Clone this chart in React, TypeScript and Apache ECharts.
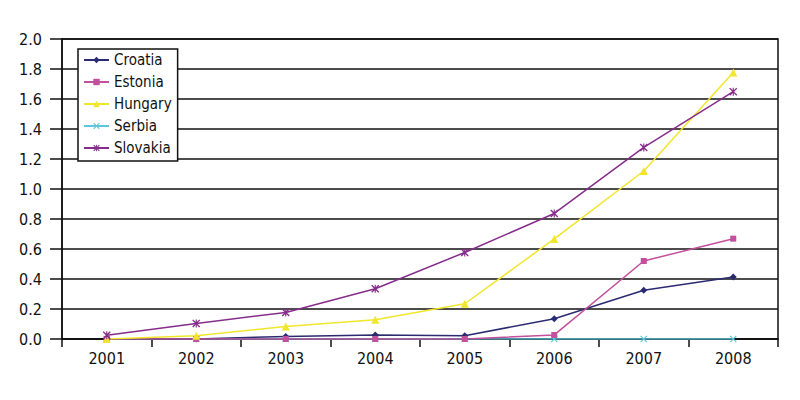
import React, { useEffect, useRef } from "react";
import * as echarts from "echarts";

const years = ["2001", "2002", "2003", "2004", "2005", "2006", "2007", "2008"];
const croatia = [0, 0, 0.017, 0.027, 0.022, 0.135, 0.325, 0.413];
const estonia = [0, 0, 0, 0, 0, 0.027, 0.52, 0.669];
const hungary = [0, 0.022, 0.084, 0.129, 0.235, 0.667, 1.12, 1.777];
const serbia = [0, 0, 0, 0, 0, 0, 0, 0];
const slovakia = [0.025, 0.104, 0.177, 0.335, 0.577, 0.837, 1.277, 1.649];

const seriesNames = ["Croatia", "Estonia", "Hungary", "Serbia", "Slovakia"];
const seriesData = [croatia, estonia, hungary, serbia, slovakia];
const seriesColors = ["#2b2b72", "#c2509c", "#f2e62a", "#5cc6dc", "#862d8c"];

const X_PATH =
  "path://M0,1.2L1.2,0L5,3.8L8.8,0L10,1.2L6.2,5L10,8.8L8.8,10L5,6.2L1.2,10L0,8.8L3.8,5Z";
const STAR_PATH =
  "path://M0,1.2L1.2,0L5,3.8L8.8,0L10,1.2L6.2,5L10,8.8L8.8,10L5,6.2L1.2,10L0,8.8L3.8,5Z M4.3,0L5.7,0L5.7,10L4.3,10Z";
const seriesSymbols = ["diamond", "rect", "triangle", X_PATH, STAR_PATH];
const seriesSymbolSizes = [7, 6, 8, 7, 8];

const FONT = "'Liberation Sans Narrow', 'DejaVu Sans Condensed', sans-serif";

export default function App() {
  const ref = useRef<HTMLDivElement>(null);
  useEffect(() => {
    if (!ref.current) return;
    const chart = echarts.init(ref.current, null, { renderer: "svg" });
    chart.setOption({
      animation: false,
      backgroundColor: "#ffffff",
      textStyle: { fontFamily: FONT },
      grid: {
        left: 62,
        right: 22,
        top: 39,
        bottom: 61,
        show: true,
        borderColor: "#111",
        borderWidth: 1.5,
        backgroundColor: "transparent",
      },
      legend: {
        orient: "vertical",
        left: 78,
        top: 49,
        backgroundColor: "#fff",
        borderColor: "#111",
        borderWidth: 1.5,
        borderRadius: 0,
        padding: [2, 6, 4, 5],
        itemGap: 4,
        itemWidth: 25,
        itemHeight: 8,
        textStyle: {
          fontFamily: FONT,
          fontSize: 15,
          lineHeight: 18,
          color: "#111",
        },
        data: seriesNames,
      },
      xAxis: {
        type: "category",
        data: years,
        boundaryGap: true,
        axisLine: { show: true, lineStyle: { color: "#111", width: 1.5 } },
        axisTick: { show: true, length: 8, alignWithLabel: false, lineStyle: { color: "#111", width: 1.5 } },
        axisLabel: { color: "#111", fontSize: 16, margin: 11, fontFamily: FONT },
        splitLine: { show: false },
      },
      yAxis: {
        type: "value",
        min: 0,
        max: 2,
        interval: 0.2,
        axisLine: { show: true, lineStyle: { color: "#111", width: 1.5 } },
        axisTick: { show: true, inside: false, length: 12, lineStyle: { color: "#111", width: 1.5 } },
        axisLabel: {
          color: "#111",
          fontSize: 16,
          margin: 20,
          fontFamily: FONT,
          formatter: (v: number) => v.toFixed(1),
        },
        splitLine: { show: true, lineStyle: { color: "#111", width: 1.5 } },
      },
      series: seriesNames.map((name, i) => ({
        name,
        type: "line",
        data: seriesData[i],
        symbol: seriesSymbols[i],
        symbolSize: seriesSymbolSizes[i],
        showAllSymbol: true,
        color: seriesColors[i],
        lineStyle: { color: seriesColors[i], width: 1.5 },
        itemStyle: { color: seriesColors[i] },
        z: 2 + (i === 3 ? 0 : 1),
      })),
    });
    return () => chart.dispose();
  }, []);
  return <div ref={ref} style={{ width: 800, height: 400, position: "absolute", left: 0, top: 0 }} />;
}
